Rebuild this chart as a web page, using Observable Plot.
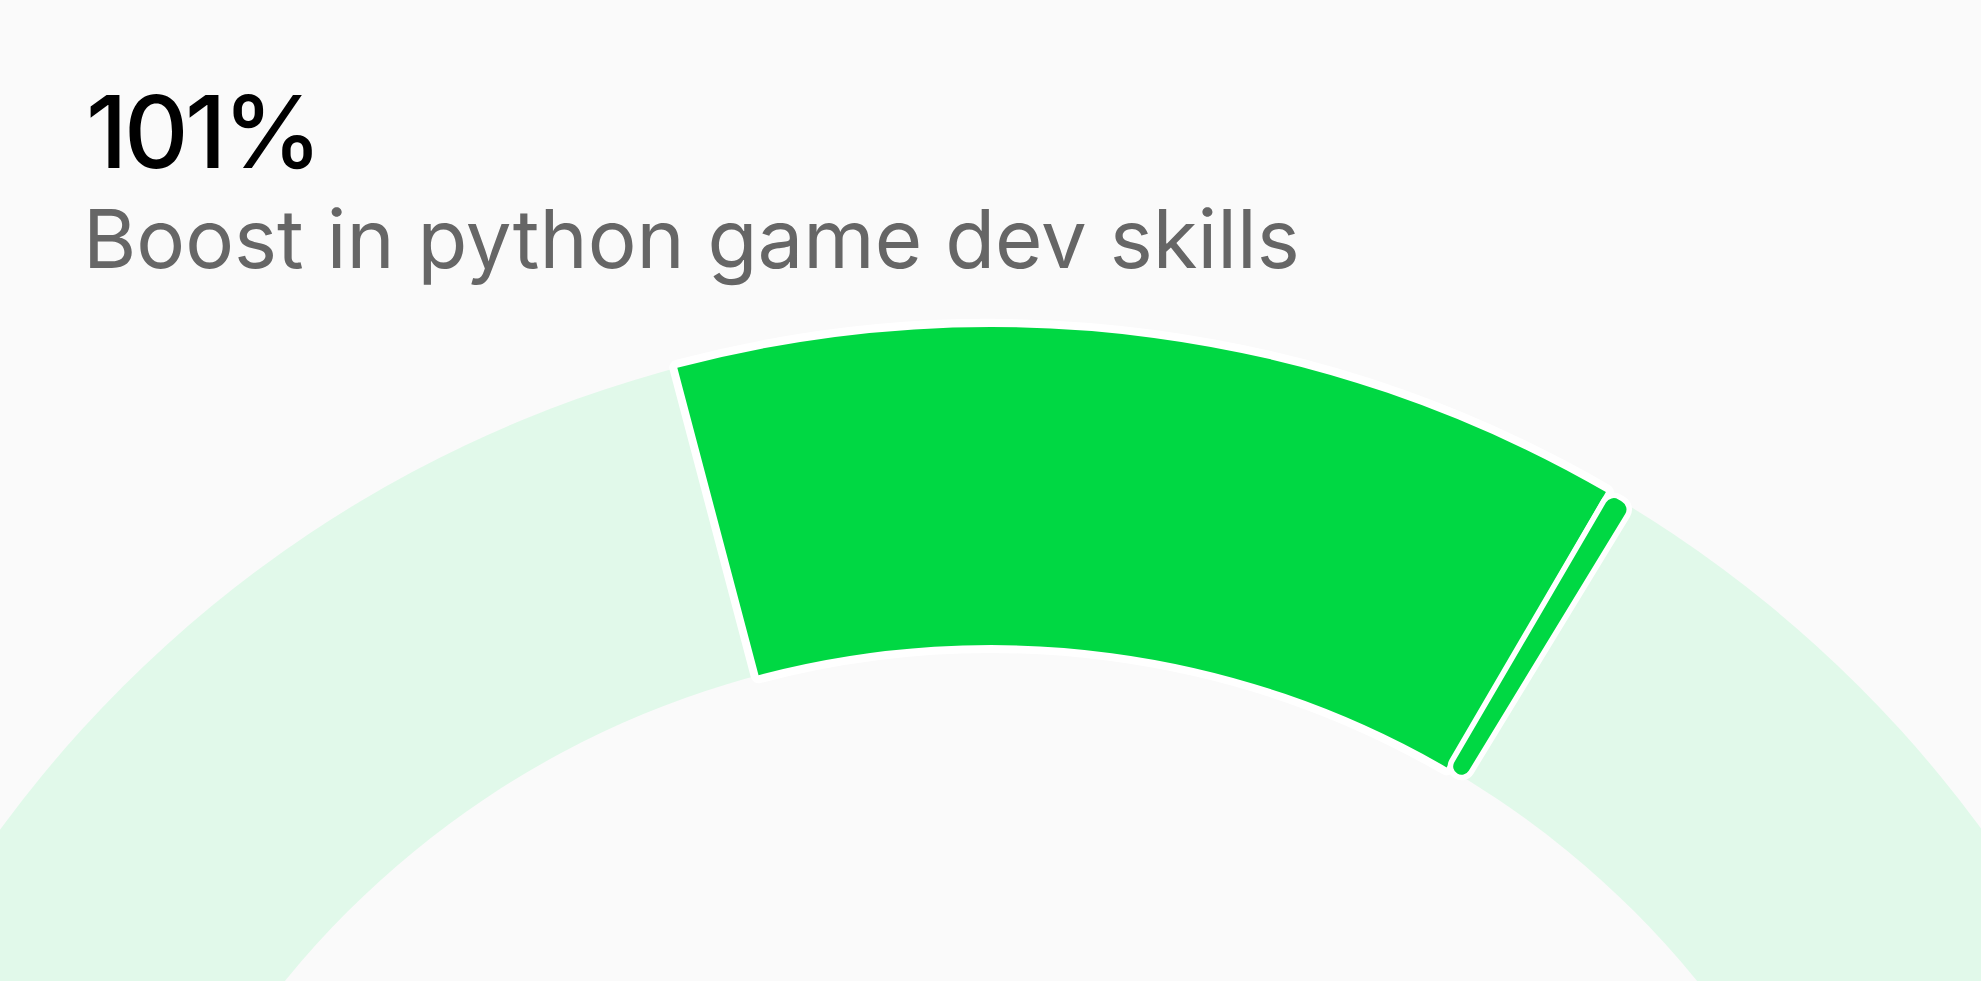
<!DOCTYPE html>
<html>
<head>
<meta charset="utf-8">
<script src="https://cdn.jsdelivr.net/npm/d3@7"></script>
<script src="https://cdn.jsdelivr.net/npm/@observablehq/plot@0.6"></script>
<style>
  html, body { margin: 0; padding: 0; background: #fafafa; overflow: hidden; }
  #chart { width: 1981px; height: 981px; font-family: Inter, "Noto Sans", sans-serif; }
  .title { margin: 0; padding: 82px 0 0 86px; font-size: 100px; line-height: 100px; font-weight: 500; letter-spacing: -3.5px; color: #000; }
  .subtitle { margin: 0; padding: 16px 0 0 83px; font-size: 81.5px; line-height: 81px; font-weight: 400; color: #666; }
  svg { display: block; }
</style>
</head>
<body>
<div id="chart"></div>
<script>
// ---- data ----
const titleValue = "101%";
const subtitleText = "Boost in python game dev skills";
const bandNames = ["Track", "Range", "Marker"];
const bandStartDeg = [-90, -14.8, 30.3];
const bandEndDeg = [90, 30.05, 31.35];

// ---- layout / style ----
const OUTER = 1;          // outer radius in gauge units
const INNER = 0.741;      // inner radius in gauge units
const bandStyle = {
  Track:  { fill: "#e1f9ea", halo: 0,  cornerRadius: 0 },
  Range:  { fill: "#00d843", halo: 16, cornerRadius: 0 },
  Marker: { fill: "#00d843", halo: 11, cornerRadius: 9 }
};

const bands = bandNames.map((name, i) => ({ name, start: bandStartDeg[i], end: bandEndDeg[i] }));
const rad = (deg) => deg * Math.PI / 180;

function gaugeArc(data) {
  return Plot.dot(data, {
    x: 0,
    y: 0,
    render(index, scales) {
      const cx = scales.x(0), cy = scales.y(0);
      const r0 = scales.x(INNER) - cx, r1 = scales.x(OUTER) - cx;
      const g = d3.create("svg:g")
        .attr("transform", `translate(${cx},${cy})`)
        .attr("shape-rendering", "geometricPrecision");
      for (const i of index) {
        const d = data[i];
        const s = bandStyle[d.name];
        const arc = d3.arc().innerRadius(r0).outerRadius(r1).cornerRadius(s.cornerRadius);
        const path = arc({ startAngle: rad(d.start), endAngle: rad(d.end) });
        if (s.halo > 0) {
          g.append("path")
            .attr("d", path)
            .attr("fill", "#ffffff")
            .attr("stroke", "#ffffff")
            .attr("stroke-width", s.halo)
            .attr("stroke-linejoin", "round");
        }
        g.append("path")
          .attr("d", path)
          .attr("fill", s.fill)
          .attr("stroke", "none");
      }
      return g.node();
    }
  });
}

const chart = document.getElementById("chart");
const h = document.createElement("div"); h.className = "title"; h.textContent = titleValue;
const sub = document.createElement("div"); sub.className = "subtitle"; sub.textContent = subtitleText;
chart.append(h, sub);

const plot = Plot.plot({
  width: 1981,
  height: 702,
  margin: 0,
  x: { domain: [-0.807, 0.8062], axis: null },
  y: { domain: [0.4674, 1.039], axis: null },
  style: { background: "transparent", overflow: "visible" },
  marks: [gaugeArc(bands)]
});
chart.append(plot);
</script>
</body>
</html>
